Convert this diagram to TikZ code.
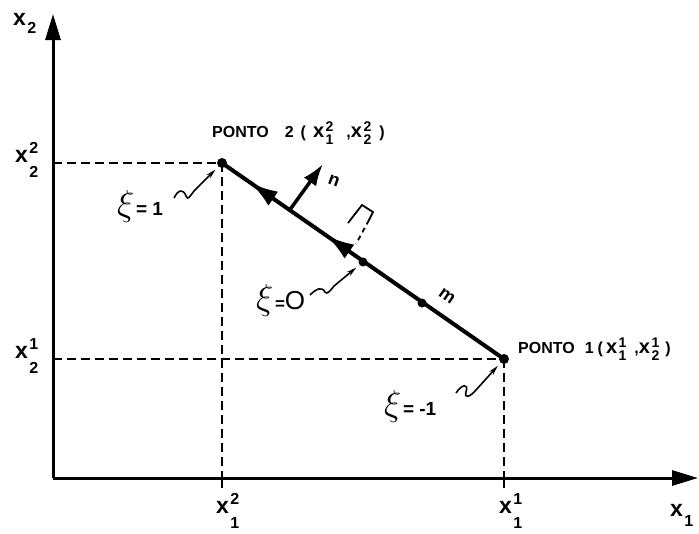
\documentclass[tikz,border=0pt]{standalone}
\usepackage{fontspec}
\usepackage{graphicx}
\setmainfont{Liberation Sans}
\usetikzlibrary{arrows.meta,decorations.markings,calc}
\newcommand\scr[1]{{\fontsize{16}{16}\selectfont\bfseries #1}}
\newcommand\sscr[1]{{\fontsize{14}{14}\selectfont\bfseries #1}}
% axis label: x with sub (#2) lowered by #1 and sup (#3)
\newcommand\vx[3][-15pt]{{\fontsize{23}{23}\selectfont\bfseries x}\kern1.5pt\rlap{\raisebox{#1}{\scr{#2}}}\raisebox{9pt}{\scr{#3}}}
% label inside PONTO texts
\newcommand\px[2]{{\fontsize{20}{20}\selectfont\bfseries x}\kern1.5pt\rlap{\raisebox{-7pt}{\sscr{#1}}}\raisebox{6pt}{\sscr{#2}}}
\newcommand\bigxi{\scalebox{1.45}{\fontsize{24}{24}\selectfont$\xi$}}
\begin{document}
\begin{tikzpicture}[x=1pt,y=-1pt,
  axis/.style={line width=3pt,-{Triangle[length=26pt,width=15pt]}},
  guide/.style={line width=1.5pt,dash pattern=on 9pt off 5pt},
  dot/.style={circle,fill=black,inner sep=0pt,minimum size=10pt},
  seg/.style={line width=4pt},
  leader/.style={line width=1.6pt,-{Stealth[length=10pt,width=5pt]},shorten >=4pt},
  lab/.style={inner sep=0pt},
  ponto/.style={font=\fontsize{16}{16}\selectfont\bfseries,inner sep=0pt,anchor=base west},
  xilab/.style={inner sep=0pt,anchor=west}]
\useasboundingbox (0,0) rectangle (699,533);
% axes
\coordinate (o) at (53,478);
\coordinate (xe) at (698,478);
\coordinate (ye) at (53,14);
\draw[axis] (o) -- (xe);
\draw[axis] (o) -- (ye);
% points
\node[dot] (p2) at (222,163) {};
\node[dot] (p1) at (504,359) {};
\node[dot,minimum size=9pt] (pm) at (363,262) {};
\node[dot,minimum size=9pt] (pq) at (422,303) {};
% guide lines
\coordinate (a22) at (53,163);
\coordinate (a21) at (53,359);
\coordinate (b12) at (222,478);
\coordinate (b11) at (504,478);
\draw[guide] (a22) -- (p2.center);
\draw[guide] (p2.center) -- (b12);
\draw[guide] (a21) -- (p1.center);
\draw[guide] (p1.center) -- (b11);
\draw[line width=1.5pt] (b12) -- ++(0,10);
\draw[line width=1.5pt] (b11) -- ++(0,10);
% segment
\draw[seg,postaction={decorate},decoration={markings,
  mark=at position 0.90 with {\arrow{Latex[length=28pt,width=17pt]}},
  mark=at position 0.63 with {\arrow{Latex[length=28pt,width=17pt]}}}]
  (p1.center) -- (p2.center);
% normal
\coordinate (nb) at ($(p1.center)!0.76!(p2.center)$);
\coordinate (nt) at (323,164);
\draw[line width=3.5pt,-{Latex[length=22pt,width=15pt]}] (nb) -- (nt);
\node[font=\fontsize{18}{18}\selectfont\bfseries,rotate=-20] (nlab) at (334,181) {n};
\node[font=\fontsize{18}{18}\selectfont\bfseries,rotate=-35] (mlab) at (447,296) {m};
% right angle mark
\draw[line width=1.8pt] (348,223) -- (362,205) -- (373,212) -- (369,220);
\draw[line width=1.8pt,dash pattern=on 5pt off 4pt] (369,220) -- (356,244);
% labels on axes (placed by baseline)
\node[lab,anchor=base west] (x2) at (13,25) {\vx[-8pt]{2}{}};
\node[lab,anchor=base west] (x22) at (15,162) {\vx{2}{2}};
\node[lab,anchor=base west] (x21) at (15,358) {\vx{2}{1}};
\node[lab,anchor=base west] (x12) at (216,513) {\vx{1}{2}};
\node[lab,anchor=base west] (x11) at (499,513) {\vx{1}{1}};
\node[lab,anchor=base west] (x1) at (670,516) {\vx[-10pt]{1}{}};
% ponto labels
\node[ponto] (pt2) at (212,137) {PONTO\hspace{16pt}2\hspace{7pt}(\hspace{7pt}\px{1}{2}\hspace{13pt},\px{2}{2}\hspace{8pt})};
\node[ponto] (pt1) at (518,353) {PONTO\hspace{10pt}1\hspace{4pt}(\hspace{3pt}\px{1}{1}\hspace{8pt},\px{2}{1}\hspace{6pt})};
% xi labels
\node[xilab] (xi1) at (117,206) {\bigxi\,{\fontsize{19}{19}\selectfont\bfseries = 1}};
\node[xilab] (xi0) at (256,300) {\bigxi\,{\fontsize{17}{17}\selectfont\bfseries =}{\fontsize{26}{26}\selectfont O}};
\node[xilab] (xim) at (384,406) {\bigxi\,{\fontsize{19}{19}\selectfont\bfseries = -1}};
% leaders
\coordinate (l1) at (174,198);
\coordinate (l0) at (310,295);
\coordinate (lm) at (456,393);
\draw[leader] (l1) .. controls (178,190) and (183,188) .. (186,196)
  .. controls (188,201) and (190,196) .. (194,191) -- (p2);
\draw[leader] (l0) .. controls (316,289) and (322,286) .. (325,292)
  .. controls (327,295) and (330,291) .. (334,286) -- (pm);
\draw[leader] (lm) .. controls (462,384) and (469,383) .. (466,392)
  .. controls (464,399) and (470,397) .. (476,390) -- (p1);
\end{tikzpicture}
\end{document}
